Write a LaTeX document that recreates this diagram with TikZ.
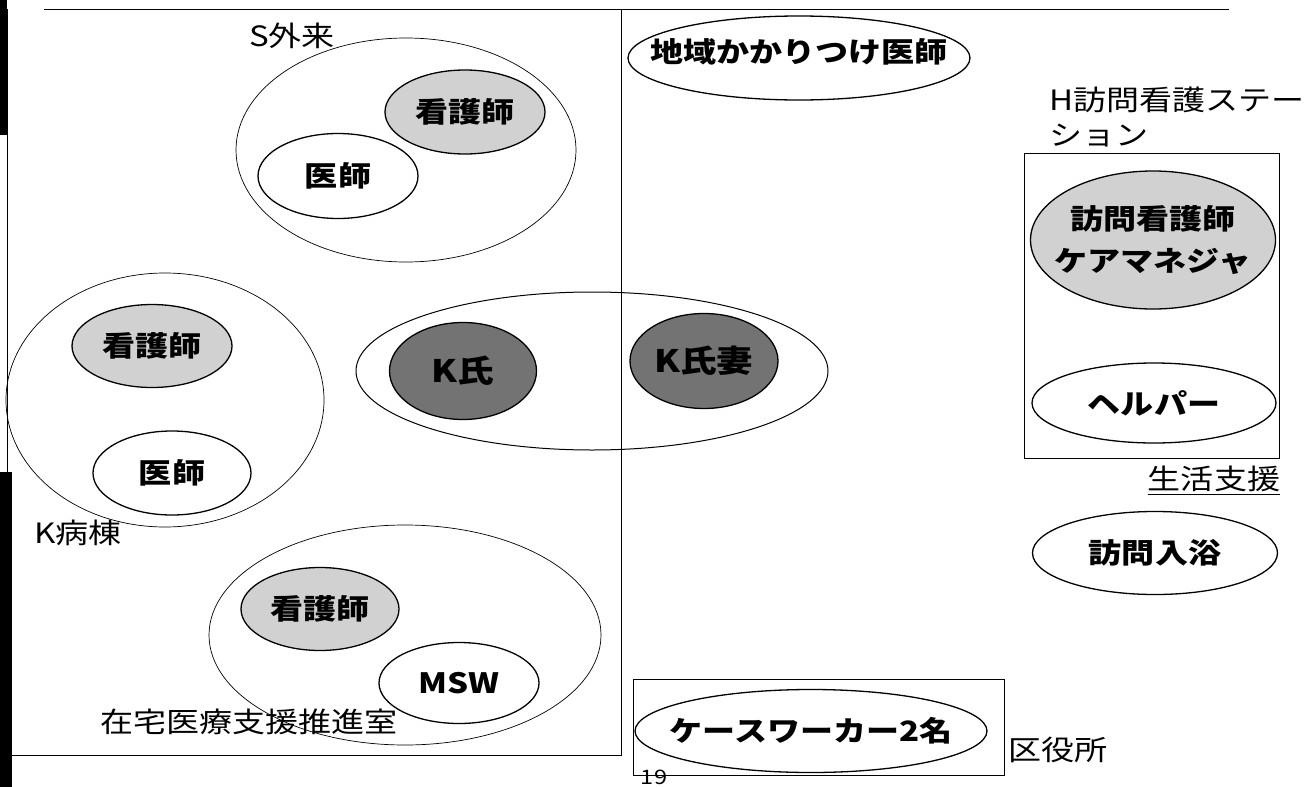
\documentclass[tikz,border=0pt]{standalone}
\usepackage{fontspec}
\setmainfont{Noto Sans CJK JP}[FakeStretch=1.18]
\usetikzlibrary{shapes.geometric}
\begin{document}
\begin{tikzpicture}[x=1pt,y=-1pt,
  ell/.style={ellipse,draw=black,line width=1.3pt,inner sep=0pt},
  txt/.style={inner sep=0pt,align=center,font=\fontsize{28}{42}\selectfont\bfseries},
  outer/.style={ellipse,draw=black,line width=0.7pt,inner sep=0pt},
  lbl/.style={inner sep=0pt,font=\fontsize{28}{32}\selectfont},
  lightfill/.style={fill=black!18},
  darkfill/.style={fill=black!55},
  frame/.style={draw=black,line width=0.8pt}]
\useasboundingbox (0,0) rectangle (1304,787);
\fill[white] (0,0) rectangle (1304,787);
% scan bars
\fill[black] (0,0) rectangle (7,135);
\fill[black] (0,472) rectangle (12,787);
% frames
\draw[frame] (44,9) -- (1229,9);
\draw[frame] (7,9) -- (7,755) -- (621,755) -- (621,9);
\draw[frame] (1024,153) rectangle (1279,458);
\draw[frame] (633,679) rectangle (1004,775);
% outer ellipses
\node[outer,minimum width=340pt,minimum height=224pt] (sgroup) at (406,150) {};
\node[outer,minimum width=318pt,minimum height=254pt] (kgroup) at (165,400) {};
\node[outer,minimum width=392pt,minimum height=220pt] (zgroup) at (405,635) {};
\node[outer,line width=1pt,minimum width=472pt,minimum height=158pt] (kfam) at (592,371) {};
% inner ellipses
\node[ell,lightfill,minimum width=160pt,minimum height=84pt] (sns) at (465,112) {};
\node[ell,minimum width=160pt,minimum height=85pt] (sdr) at (338,176) {};
\node[ell,lightfill,minimum width=160pt,minimum height=83pt] (kns) at (152,346) {};
\node[ell,minimum width=158pt,minimum height=84pt] (kdr) at (172,473) {};
\node[ell,lightfill,minimum width=158pt,minimum height=83pt] (zns) at (320,609) {};
\node[ell,minimum width=160pt,minimum height=81pt] (msw) at (459,683) {};
\node[ell,darkfill,minimum width=147pt,minimum height=97pt] (kshi) at (463,371) {};
\node[ell,darkfill,minimum width=148pt,minimum height=95pt] (kwife) at (704,361) {};
\node[ell,minimum width=342pt,minimum height=84pt] (chiiki) at (799,58) {};
\node[ell,lightfill,minimum width=245pt,minimum height=138pt] (hns) at (1153,240) {};
\node[ell,minimum width=244pt,minimum height=80pt] (helper) at (1154,403) {};
\node[ell,minimum width=245pt,minimum height=83pt] (bath) at (1155,553) {};
\node[ell,minimum width=352pt,minimum height=83pt] (cw) at (811,731) {};
% texts in ellipses
\node[txt] (snsT) at (sns) {看護師};
\node[txt] (sdrT) at (sdr) {医師};
\node[txt] (knsT) at (kns) {看護師};
\node[txt] (kdrT) at (kdr) {医師};
\node[txt] (znsT) at (zns) {看護師};
\node[txt] (mswT) at (msw) {MSW};
\node[txt,font=\fontsize{31}{36}\selectfont\bfseries] (kshiT) at (kshi) {K氏};
\node[txt,font=\fontsize{31}{36}\selectfont\bfseries] (kwifeT) at (kwife) {K氏妻};
\node[txt] (chiikiT) at (799,52) {地域かかりつけ医師};
\node[txt] (hnsT) at (hns) {訪問看護師\\ケアマネジャ};
\node[txt] (helperT) at (helper) {ヘルパー};
\node[txt] (bathT) at (bath) {訪問入浴};
\node[txt] (cwT) at (cw) {ケースワーカー2名};
% labels
\node[lbl] (lS) at (292,36) {S外来};
\node[lbl] (lK) at (78,533) {K病棟};
\node[lbl] (lZ) at (249,722) {在宅医療支援推進室};
\node[lbl,anchor=west] (lH1) at (1049,100) {H訪問看護ステー};
\node[lbl,anchor=west] (lH2) at (1049,136) {ション};
\node[lbl] (lL) at (1214,479) {生活支援};
\draw[line width=0.8pt] ([yshift=-2pt]lL.south west) -- ([yshift=-2pt]lL.south east);
\node[lbl] (lW) at (1058,750) {区役所};
\node[inner sep=0pt,font=\fontsize{20}{22}\selectfont] (pg) at (654,777) {19};
\end{tikzpicture}
\end{document}
